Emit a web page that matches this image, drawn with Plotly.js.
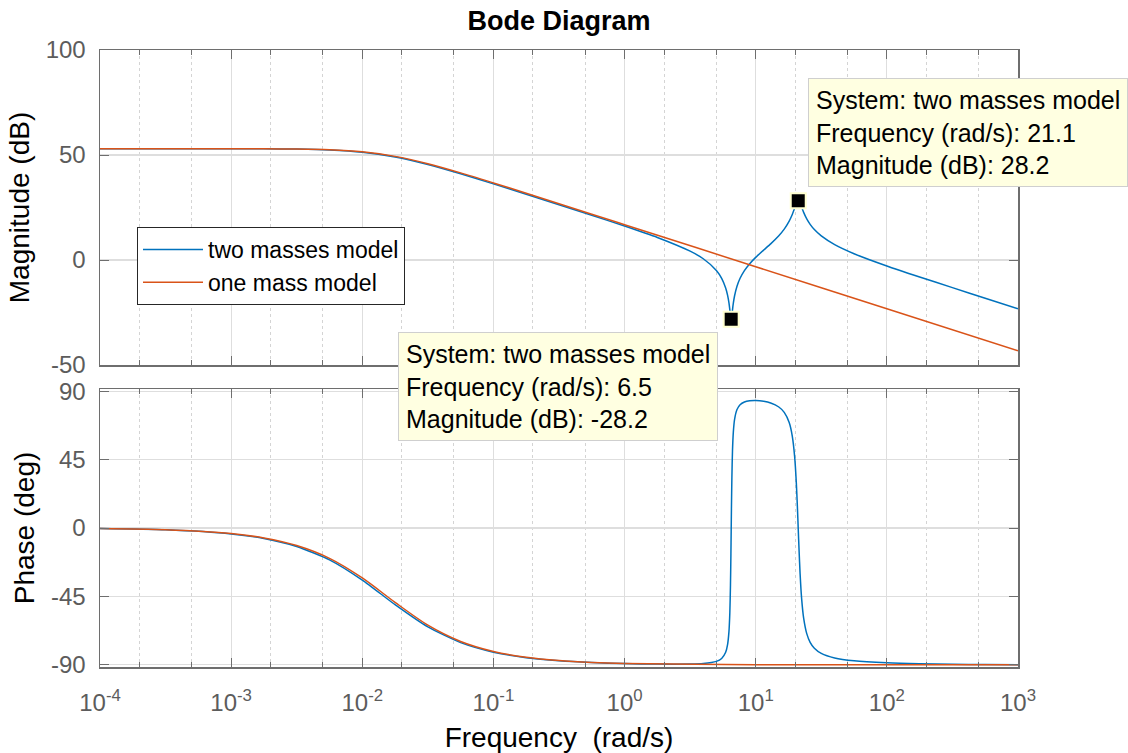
<!DOCTYPE html>
<html><head><meta charset="utf-8">
<script src="https://cdn.plot.ly/plotly-3.0.1.min.js"></script>
<style>html,body{margin:0;padding:0;background:#fff}#chart{width:1128px;height:753px}</style>
</head><body><div id="chart"></div>
<script>
// ---- data ----
const seriesNames = ['two masses model', 'one mass model'];

const freqOne  = [1e-4, 3.162e-4, 1e-3, 1.778e-3, 3.162e-3, 5.623e-3, 1e-2, 1.778e-2, 3.162e-2, 5.623e-2, 0.1, 0.1778, 0.3162, 0.5623, 1, 10, 100, 1000];
const magOne   = [53.00, 53.00, 52.98, 52.94, 52.82, 52.46, 51.49, 49.35, 45.87, 41.49, 36.70, 31.77, 26.79, 21.81, 16.81, -3.19, -23.19, -43.19];
const phaseOne = [-0.37, -1.17, -3.69, -6.54, -11.53, -19.93, -32.83, -48.91, -63.89, -74.59, -81.19, -85.02, -87.19, -88.42, -89.11, -89.91, -89.99, -90.00];

const freqTwo  = [1e-4, 3.162e-4, 1e-3, 1.778e-3, 3.162e-3, 5.623e-3, 1e-2, 1.778e-2, 3.162e-2, 5.623e-2, 0.1, 0.1778, 0.3162, 0.5623, 1, 1.778, 3.162, 3.981, 5.012, 5.5, 5.9, 6.1, 6.25, 6.35, 6.42, 6.47, 6.5, 6.53, 6.58, 6.65, 6.75, 6.9, 7.2, 7.6, 8.2, 9, 10, 11.5, 13, 15, 16.5, 18, 19, 19.8, 20.4, 20.8, 21.1, 21.4, 21.8, 22.4, 23.2, 24.5, 26, 28, 31.62, 40, 56.23, 100, 177.8, 316.2, 562.3, 1000];
const magTwo   = [53.00, 53.00, 52.98, 52.94, 52.80, 52.41, 51.35, 49.09, 45.50, 41.06, 36.25, 31.32, 26.32, 21.29, 16.16, 10.74, 4.20, 0.59, -4.97, -8.74, -13.32, -16.76, -20.45, -23.79, -26.46, -27.92, -28.21, -27.91, -26.45, -23.83, -20.58, -17.03, -12.49, -8.71, -5.06, -1.74, 1.26, 4.74, 7.70, 11.55, 14.70, 18.49, 21.64, 24.63, 26.87, 27.91, 28.20, 27.97, 27.05, 25.13, 22.66, 19.55, 16.96, 14.50, 11.47, 7.33, 3.00, -2.84, -8.08, -13.16, -18.19, -23.19];
const phaseTwo = [-0.39, -1.23, -3.89, -6.90, -12.14, -20.92, -34.23, -50.42, -65.07, -75.34, -81.64, -85.28, -87.34, -88.50, -89.16, -89.50, -89.47, -89.13, -87.71, -85.78, -81.70, -76.64, -68.10, -55.37, -37.51, -16.99, -2.12, 12.71, 32.97, 50.49, 63.02, 71.46, 77.93, 81.05, 82.83, 83.63, 83.80, 83.29, 82.19, 79.57, 76.03, 69.32, 60.48, 47.11, 29.68, 13.28, -0.64, -14.37, -30.09, -46.60, -59.28, -69.48, -75.15, -79.07, -82.49, -85.48, -87.34, -88.66, -89.27, -89.60, -89.77, -89.87];

const tipFreq = [6.5, 21.1];
const tipMag  = [-28.2, 28.2];

const decadeExp  = [-4, -3, -2, -1, 0, 1, 2, 3];
const magTicks   = [-50, 0, 50, 100];
const phaseTicks = [-90, -45, 0, 45, 90];

// ---- styling ----
const FONT = 'Liberation Sans, Arial, Helvetica, sans-serif';
const BLUE = '#0072BD', ORANGE = '#D95319';
const AX = '#6e6e6e', TICKTXT = '#5c5c5c', GRID = '#dedede';

const xTickVals = decadeExp.map(e => Math.pow(10, e));
const xTickText = decadeExp.map(e => '10<sup>' + e + '</sup>');

const traces = [
  {x: freqTwo, y: magTwo, xaxis: 'x', yaxis: 'y', name: seriesNames[0], mode: 'lines',
   line: {color: BLUE, width: 1.5, shape: 'spline', smoothing: 0.6}, legendgroup: 'a'},
  {x: freqOne, y: magOne, xaxis: 'x', yaxis: 'y', name: seriesNames[1], mode: 'lines',
   line: {color: ORANGE, width: 1.5, shape: 'spline', smoothing: 0.8}, legendgroup: 'b'},
  {x: freqTwo, y: phaseTwo, xaxis: 'x2', yaxis: 'y2', name: seriesNames[0], mode: 'lines', showlegend: false,
   line: {color: BLUE, width: 1.5, shape: 'spline', smoothing: 0.6}, legendgroup: 'a'},
  {x: freqOne, y: phaseOne, xaxis: 'x2', yaxis: 'y2', name: seriesNames[1], mode: 'lines', showlegend: false,
   line: {color: ORANGE, width: 1.5, shape: 'spline', smoothing: 0.8}, legendgroup: 'b'},
  {x: tipFreq, y: tipMag, xaxis: 'x', yaxis: 'y', mode: 'markers', showlegend: false, hoverinfo: 'skip',
   marker: {symbol: 'square', size: 15, color: '#000', line: {color: '#ffffd0', width: 2}}}
];

const L = 100, R = 110, T = 50, B = 86, H = 753;
const plotH = H - T - B;
function py(pix) { return (H - B - pix) / plotH; }
function px(pix) { return (pix - L) / (1128 - L - R); }

const xCommon = {
  type: 'log', range: [-4, 3], tickmode: 'array', tickvals: xTickVals, ticktext: xTickText,
  showline: true, linecolor: AX, linewidth: 1.5, mirror: 'ticks',
  ticks: 'inside', ticklen: 9, tickcolor: AX, tickwidth: 1,
  showgrid: true, gridcolor: GRID, gridwidth: 1.2, zeroline: false,
  minor: {ticks: 'inside', ticklen: 5, tickcolor: AX, showgrid: true, gridcolor: '#d4d4d4', griddash: 'dot', gridwidth: 1},
  tickfont: {family: FONT, size: 24, color: TICKTXT}
};

const tipText = tipFreq.map((f, i) =>
  'System: ' + seriesNames[0] + '<br>Frequency (rad/s): ' + f.toFixed(1) + '<br>Magnitude (dB): ' + tipMag[i].toFixed(1));

const layout = {
  width: 1128, height: 753,
  margin: {l: L, r: R, t: T, b: B},
  paper_bgcolor: '#fff', plot_bgcolor: '#fff',
  font: {family: FONT, color: '#000'},
  title: {text: '<b>Bode Diagram</b>', font: {family: FONT, size: 27, color: '#000'},
          x: 0.5, xref: 'paper', xanchor: 'center', y: 1 - 21 / 753, yref: 'container', yanchor: 'middle'},
  showlegend: true,
  legend: {x: px(137), y: py(227), xanchor: 'left', yanchor: 'top', bgcolor: '#fff',
           bordercolor: '#262626', borderwidth: 1, font: {family: FONT, size: 23, color: '#000'},
           tracegroupgap: 0, itemwidth: 60},
  xaxis: Object.assign({}, xCommon, {domain: [0, 1], anchor: 'y', showticklabels: false}),
  xaxis2: Object.assign({}, xCommon, {domain: [0, 1], anchor: 'y2', matches: 'x', showticklabels: true,
           ticklabelstandoff: 14,
           title: {text: 'Frequency\u00a0\u00a0(rad/s)', font: {family: FONT, size: 28, color: '#000'}, standoff: 12}}),
  yaxis: {domain: [py(365), 1], anchor: 'x', range: [-50, 100], tickmode: 'array',
          tickvals: magTicks, ticktext: magTicks.map(String),
          showline: true, linecolor: AX, linewidth: 1.5, mirror: 'ticks',
          ticks: 'inside', ticklen: 9, tickcolor: AX, showgrid: true, gridcolor: GRID, gridwidth: 1.2, zeroline: false,
          ticklabelstandoff: 8,
          tickfont: {family: FONT, size: 24, color: TICKTXT},
          title: {text: 'Magnitude (dB)', font: {family: FONT, size: 28, color: '#000'}, standoff: 8}},
  yaxis2: {domain: [0, py(389)], anchor: 'x2', range: [-91.4, 91.4], tickmode: 'array',
          tickvals: phaseTicks, ticktext: phaseTicks.map(String),
          showline: true, linecolor: AX, linewidth: 1.5, mirror: 'ticks',
          ticks: 'inside', ticklen: 9, tickcolor: AX, showgrid: true, gridcolor: GRID, gridwidth: 1.2, zeroline: false,
          ticklabelstandoff: 8,
          tickfont: {family: FONT, size: 24, color: TICKTXT},
          title: {text: 'Phase (deg)', font: {family: FONT, size: 28, color: '#000'}, standoff: 8}},
  annotations: [
    {text: tipText[0], xref: 'paper', yref: 'paper', x: px(398), y: py(332), xanchor: 'left', yanchor: 'top',
     showarrow: false, align: 'left', bgcolor: '#ffffe1', bordercolor: '#cfcfcf', borderwidth: 1, borderpad: 7,
     font: {family: FONT, size: 25, color: '#000'}},
    {text: tipText[1], xref: 'paper', yref: 'paper', x: px(808), y: py(78), xanchor: 'left', yanchor: 'top',
     showarrow: false, align: 'left', bgcolor: '#ffffe1', bordercolor: '#cfcfcf', borderwidth: 1, borderpad: 7,
     font: {family: FONT, size: 25, color: '#000'}}
  ]
};

Plotly.newPlot('chart', traces, layout, {displayModeBar: false, staticPlot: true});
</script>
</body></html>
